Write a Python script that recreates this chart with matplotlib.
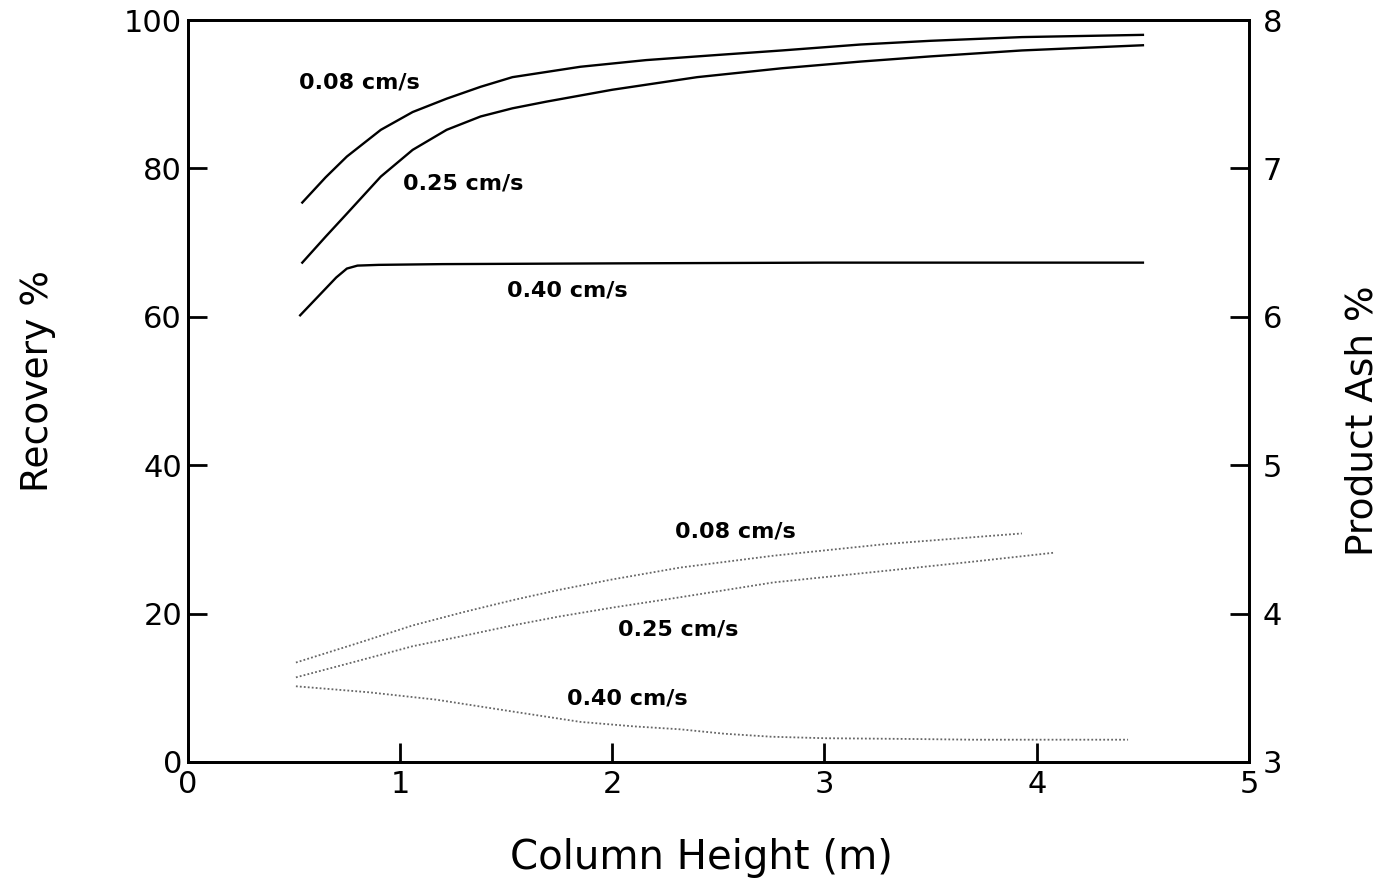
import numpy as np
import matplotlib.pyplot as plt

# Recovery % (solid lines, left axis)
rec_x_008 = [0.54, 0.65, 0.75, 0.91, 1.06, 1.22, 1.38, 1.53, 1.85, 2.16, 2.5, 2.8, 3.17, 3.5, 3.93, 4.5]
rec_y_008 = [75.4, 78.8, 81.6, 85.2, 87.6, 89.4, 91.0, 92.3, 93.7, 94.6, 95.3, 95.9, 96.7, 97.2, 97.7, 98.0]
rec_x_025 = [0.54, 0.65, 0.75, 0.91, 1.06, 1.22, 1.38, 1.53, 1.69, 2.0, 2.4, 2.8, 3.17, 3.5, 3.93, 4.5]
rec_y_025 = [67.3, 70.8, 73.9, 78.9, 82.5, 85.2, 87.0, 88.1, 89.0, 90.6, 92.3, 93.5, 94.4, 95.1, 95.9, 96.6]
rec_x_040 = [0.53, 0.62, 0.70, 0.75, 0.80, 0.9, 1.2, 2.0, 3.0, 4.0, 4.5]
rec_y_040 = [60.2, 62.9, 65.3, 66.5, 66.9, 67.0, 67.1, 67.2, 67.3, 67.3, 67.3]

# Product ash % (dotted lines, right axis)
ash_x_008 = [0.51, 0.8, 1.06, 1.3, 1.53, 1.75, 2.0, 2.32, 2.76, 3.3, 3.75, 3.93]
ash_y_008 = [3.67, 3.80, 3.92, 4.01, 4.09, 4.16, 4.23, 4.31, 4.39, 4.47, 4.52, 4.54]
ash_x_025 = [0.51, 0.8, 1.06, 1.3, 1.53, 1.75, 2.0, 2.32, 2.76, 3.3, 3.7, 4.08]
ash_y_025 = [3.57, 3.68, 3.78, 3.85, 3.92, 3.98, 4.04, 4.11, 4.21, 4.29, 4.35, 4.41]
ash_x_040 = [0.51, 0.85, 1.17, 1.53, 1.85, 2.1, 2.32, 2.53, 2.75, 3.0, 3.4, 3.7, 4.1, 4.43]
ash_y_040 = [3.51, 3.47, 3.42, 3.34, 3.27, 3.24, 3.22, 3.19, 3.17, 3.16, 3.155, 3.15, 3.15, 3.15]

labels = ["0.08 cm/s", "0.25 cm/s", "0.40 cm/s"]
rec_label_pos = [(0.81, 91.6), (1.30, 78.0), (1.79, 63.6)]
ash_label_pos = [(2.58, 4.55), (2.31, 3.89), (2.07, 3.43)]

plt.rcParams['font.family'] = ['DejaVu Sans']

fig = plt.figure(figsize=(13.9, 8.94), dpi=100)
ax = fig.add_axes([0.135, 0.1477, 0.7636, 0.8299])
ax2 = ax.twinx()

for xs, ys in [(rec_x_008, rec_y_008), (rec_x_025, rec_y_025), (rec_x_040, rec_y_040)]:
    ax.plot(xs, ys, color="black", linewidth=1.7)

for xs, ys in [(ash_x_008, ash_y_008), (ash_x_025, ash_y_025), (ash_x_040, ash_y_040)]:
    ax2.plot(xs, ys, color="#666666", linewidth=1.3, linestyle=(0, (1, 1.2)))

for lab, (x, y) in zip(labels, rec_label_pos):
    ax.text(x, y, lab, ha="center", va="center", fontsize=16, fontweight="bold")
for lab, (x, y) in zip(labels, ash_label_pos):
    ax2.text(x, y, lab, ha="center", va="center", fontsize=16, fontweight="bold")

ax.set_xlim(0, 5)
ax.set_ylim(0, 100)
ax2.set_ylim(3, 8)
ax.set_xticks(np.arange(0, 6, 1))
ax.set_yticks(np.arange(0, 101, 20))
ax2.set_yticks(np.arange(3, 9, 1))

ax.tick_params(axis="x", direction="in", length=14, width=2, labelsize=22, pad=6)
ax.tick_params(axis="y", direction="in", length=14, width=2, labelsize=22, pad=4)
ax2.tick_params(axis="y", direction="in", length=14, width=2, labelsize=22, pad=10)

for sp in list(ax.spines.values()) + list(ax2.spines.values()):
    sp.set_linewidth(2)

ax.set_xlabel("Column Height (m)", fontsize=29, va="center")
ax.xaxis.set_label_coords(0.4845, -0.1294)
ax.set_ylabel("Recovery %", fontsize=27, va="center")
ax.yaxis.set_label_coords(-0.1414, 0.5135)
ax2.set_ylabel("Product Ash %", fontsize=27, va="center")
ax2.yaxis.set_label_coords(1.1065, 0.4596)

fig.savefig("out.png", dpi=100)
